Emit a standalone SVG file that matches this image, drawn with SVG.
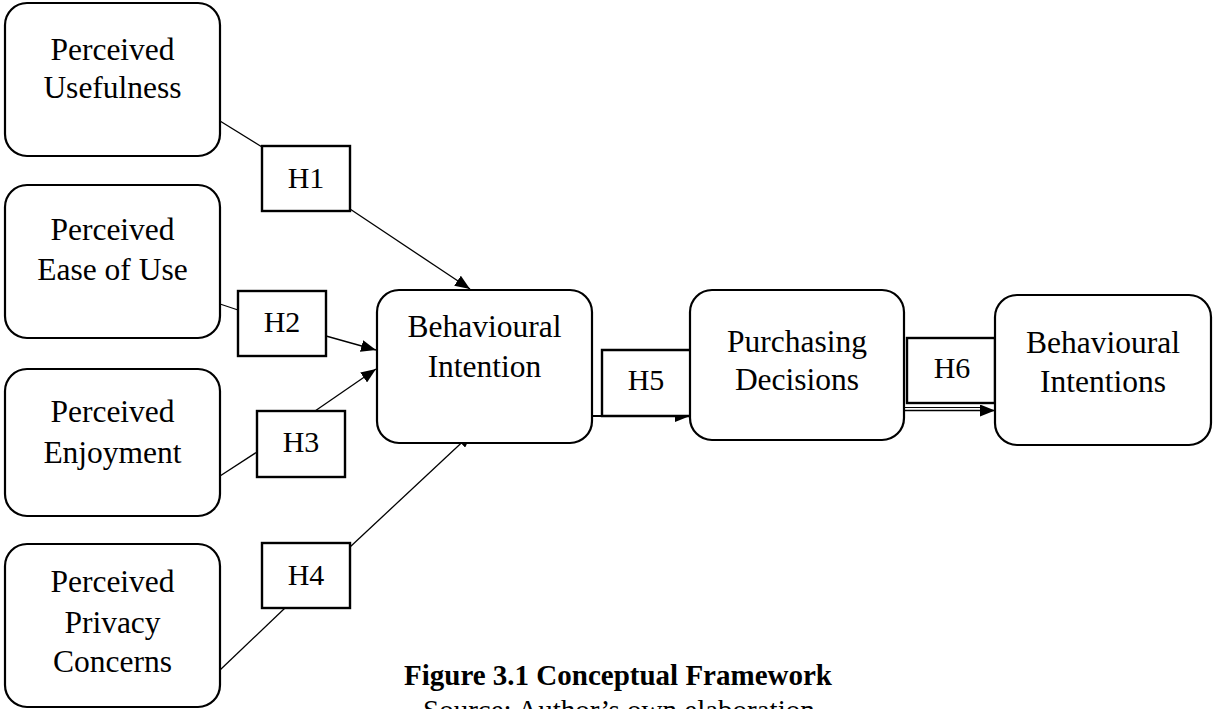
<svg xmlns="http://www.w3.org/2000/svg" width="1213" height="709" viewBox="0 0 1213 709">
<style>
.node{fill:#fff;stroke:#000;stroke-width:2.2}
.hbox{fill:#fff;stroke:#000;stroke-width:2.4}
.t{font-family:"Liberation Serif","Times New Roman",serif;font-size:31.5px;fill:#000;text-anchor:middle}
.h{font-family:"Liberation Serif","Times New Roman",serif;font-size:30px;fill:#000;text-anchor:middle}
.cap{font-family:"Liberation Serif","Times New Roman",serif;font-size:29px;fill:#000}
.ln{stroke:#000;stroke-width:1.3;fill:none}
</style>
<defs>
<marker id="arr" viewBox="0 0 15 12" refX="15" refY="6" markerWidth="15" markerHeight="12" markerUnits="userSpaceOnUse" orient="auto">
<path d="M0,0 L15,6 L0,12 Z" fill="#000"/>
</marker>
</defs>
<rect width="1213" height="709" fill="#fff"/>
<g id="connectors">
<line class="ln" x1="220" y1="121" x2="262" y2="147"/>
<line class="ln" x1="350" y1="209" x2="470" y2="289" marker-end="url(#arr)"/>
<line class="ln" x1="220" y1="304" x2="238" y2="310"/>
<line class="ln" x1="326" y1="336" x2="376" y2="350" marker-end="url(#arr)"/>
<line class="ln" x1="220" y1="476" x2="257" y2="452"/>
<line class="ln" x1="315" y1="411" x2="376" y2="369" marker-end="url(#arr)"/>
<line class="ln" x1="220" y1="670" x2="285" y2="608"/>
<line class="ln" x1="350" y1="547" x2="472" y2="433" marker-end="url(#arr)"/>
<line class="ln" x1="592" y1="416" x2="690" y2="416" marker-end="url(#arr)" style="stroke-width:2"/>
<line class="ln" x1="905" y1="407.5" x2="985" y2="407.5" style="stroke-width:1"/>
<line class="ln" x1="905" y1="410.5" x2="995" y2="410.5" marker-end="url(#arr)" style="stroke-width:1.3"/>
</g>
<g id="h1"><rect class="hbox" x="262" y="146" width="88" height="65"/><text class="h" x="306" y="188">H1</text></g>
<g id="h2"><rect class="hbox" x="238" y="291" width="88" height="65"/><text class="h" x="282" y="332">H2</text></g>
<g id="h3"><rect class="hbox" x="257" y="411" width="88" height="66"/><text class="h" x="301" y="452">H3</text></g>
<g id="h4"><rect class="hbox" x="262" y="543" width="88" height="65"/><text class="h" x="306" y="585">H4</text></g>
<g id="h5"><path class="hbox" d="M690,350 H602 V416 H690" /><text class="h" x="646" y="390">H5</text></g>
<g id="h6"><rect class="hbox" x="907" y="338" width="88" height="65"/><text class="h" x="952" y="378">H6</text></g>
<g id="pu"><rect class="node" x="5" y="3" width="215" height="153" rx="22"/><text class="t" x="112.5" y="60">Perceived</text><text class="t" x="112.5" y="98">Usefulness</text></g>
<g id="peou"><rect class="node" x="5" y="185" width="215" height="153" rx="22"/><text class="t" x="112.5" y="240">Perceived</text><text class="t" x="112.5" y="280">Ease of Use</text></g>
<g id="pe"><rect class="node" x="5" y="369" width="215" height="147" rx="22"/><text class="t" x="112.5" y="422">Perceived</text><text class="t" x="112.5" y="463">Enjoyment</text></g>
<g id="ppc"><rect class="node" x="5" y="544" width="215" height="163" rx="22"/><text class="t" x="112.5" y="592">Perceived</text><text class="t" x="112.5" y="633">Privacy</text><text class="t" x="112.5" y="672">Concerns</text></g>
<g id="bi"><rect class="node" x="377" y="290" width="215" height="153" rx="22"/><text class="t" x="484.5" y="337">Behavioural</text><text class="t" x="484.5" y="377">Intention</text></g>
<g id="pd"><rect class="node" x="690" y="290" width="214" height="150" rx="22"/><text class="t" x="797" y="352">Purchasing</text><text class="t" x="797" y="390">Decisions</text></g>
<g id="bis"><rect class="node" x="995" y="295" width="216" height="150" rx="22"/><text class="t" x="1103" y="353">Behavioural</text><text class="t" x="1103" y="392">Intentions</text></g>
<g id="caption">
<text class="cap" x="404" y="685" font-weight="bold">Figure 3.1 Conceptual Framework</text>
<text class="cap" x="423" y="720">Source: Author’s own elaboration</text>
</g>
</svg>
